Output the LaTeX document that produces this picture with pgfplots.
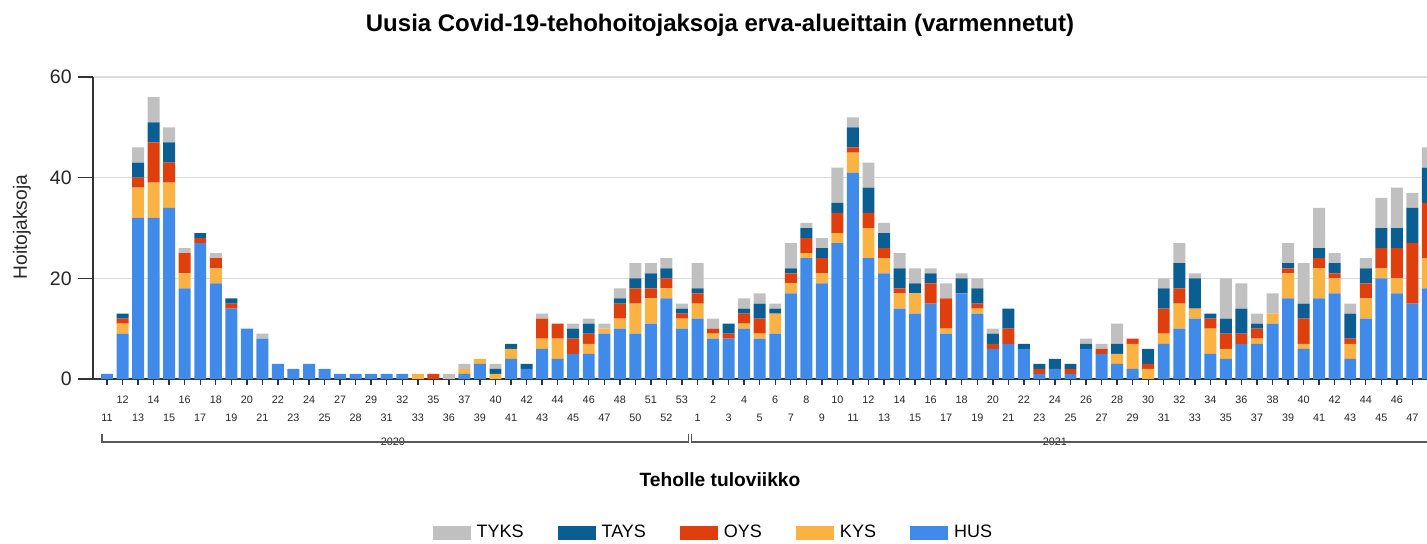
\documentclass[border=0pt]{standalone}
\usepackage{pgfplots}
\pgfplotsset{compat=1.18}
\usepackage{pgfplotstable}
\usepackage{fontspec}
\setmainfont{Liberation Sans}
\definecolor{tyks}{RGB}{192,192,192}
\definecolor{tays}{RGB}{11,94,145}
\definecolor{oys}{RGB}{222,63,12}
\definecolor{kys}{RGB}{250,178,66}
\definecolor{hus}{RGB}{64,138,234}

% i = category index; weeks 2020: 11..25,27,28,29,31,32,33,35,36,37,39..48,50..53; 2021: 1..48
\pgfplotstableread{
i HUS KYS OYS TAYS TYKS
0 1 0 0 0 0
1 9 2 1 1 0
2 32 6 2 3 3
3 32 7 8 4 5
4 34 5 4 4 3
5 18 3 4 0 1
6 27 0 1 1 0
7 19 3 2 0 1
8 14 0 1 1 0
9 10 0 0 0 0
10 8 0 0 0 1
11 3 0 0 0 0
12 2 0 0 0 0
13 3 0 0 0 0
14 2 0 0 0 0
15 1 0 0 0 0
16 1 0 0 0 0
17 1 0 0 0 0
18 1 0 0 0 0
19 1 0 0 0 0
20 0 1 0 0 0
21 0 0 1 0 0
22 0 0 0 0 1
23 1 1 0 0 1
24 3 1 0 0 0
25 0 1 0 1 1
26 4 2 0 1 0
27 2 0 0 1 0
28 6 2 4 0 1
29 4 4 3 0 0
30 5 0 3 2 1
31 5 2 2 2 1
32 9 1 0 0 1
33 10 2 3 1 2
34 9 6 3 2 3
35 11 5 2 3 2
36 16 2 2 2 2
37 10 2 1 1 1
38 12 3 2 1 5
39 8 1 1 0 2
40 8 0 1 2 0
41 10 1 2 1 2
42 8 1 3 3 2
43 9 4 0 1 1
44 17 2 2 1 5
45 24 1 3 2 1
46 19 2 3 2 2
47 27 2 4 2 7
48 41 4 1 4 2
49 24 6 3 5 5
50 21 3 2 3 2
51 14 3 1 4 3
52 13 4 0 2 3
53 15 0 4 2 1
54 9 1 6 0 3
55 17 0 0 3 1
56 13 1 1 3 2
57 6 0 1 2 1
58 7 0 3 4 0
59 6 0 0 1 0
60 1 0 1 1 0
61 2 0 0 2 0
62 1 0 1 1 0
63 6 0 0 1 1
64 5 0 1 0 1
65 3 2 0 2 4
66 2 5 1 0 0
67 0 2 1 3 0
68 7 2 5 4 2
69 10 5 3 5 4
70 12 2 0 6 1
71 5 5 2 1 0
72 4 2 3 3 8
73 7 0 2 5 5
74 7 1 2 1 2
75 11 2 0 0 4
76 16 5 1 1 4
77 6 1 5 3 8
78 16 6 2 2 8
79 17 3 1 2 2
80 4 3 1 5 2
81 12 4 3 3 2
82 20 2 4 4 6
83 17 3 6 4 8
84 15 0 12 7 3
85 18 6 11 7 4
}\data

\begin{document}
\begin{tikzpicture}
\useasboundingbox (0,0) rectangle (713.5pt,271.5pt);
\begin{axis}[
  at={(46.5pt,82pt)}, anchor=south west,
  scale only axis, width=667pt, height=151pt,
  ybar stacked, bar width=0.77,
  xmin=-0.9, xmax=84.94, ymin=0, ymax=60,
  enlargelimits=false,
  clip mode=individual,
  axis x line*=bottom, axis y line*=left,
  axis line style={black!80, line width=0.9pt},
  ytick={0,20,40,60},
  ytick style={draw=none},
  ymajorgrids, grid style={black!14, line width=0.7pt},
  tick align=outside,
  major tick length=3pt,
  xtick style={black!80, line width=0.7pt},
  /pgf/number format/assume math mode=true,
  yticklabel style={font=\fontsize{9.75}{11}\selectfont, text=black!85, anchor=east, inner sep=0pt, xshift=-7.5pt},
  xtick={1,3,...,83},
  xticklabels={12,14,16,18,20,22,24,27,29,32,35,37,40,42,44,46,48,51,53,2,4,6,8,10,12,14,16,18,20,22,24,26,28,30,32,34,36,38,40,42,44,46},
  extra x ticks={0,2,...,84},
  extra x tick labels={11,13,15,17,19,21,23,25,28,31,33,36,39,41,43,45,47,50,52,1,3,5,7,9,11,13,15,17,19,21,23,25,27,29,31,33,35,37,39,41,43,45,47},
  xticklabel style={font=\fontsize{5.4}{6}\selectfont, text=black!85, anchor=center, inner sep=0pt, yshift=-7.5pt},
  extra x tick style={xticklabel style={yshift=-9pt}},
  every axis title shift=0pt,
  title={Uusia Covid-19-tehohoitojaksoja erva-alueittain (varmennetut)},
  title style={at={(axis description cs:0.470,1.172)}, anchor=center, font=\bfseries\fontsize{12}{14}\selectfont},
  xlabel={Teholle tuloviikko},
  xlabel style={at={(axis description cs:0.470,-0.334)}, anchor=center, font=\bfseries\fontsize{9.6}{11}\selectfont},
  ylabel={\fontsize{9.6}{11}\selectfont Hoitojaksoja},
  ylabel style={at={(axis description cs:-0.0532,0.503)}, anchor=center, text=black!85},
  legend columns=5,
  reverse legend,
  legend image code/.code={\fill[#1] (0pt,-3.5pt) rectangle (19pt,3.5pt);},
  legend style={at={(axis description cs:0.4665,-0.51)}, anchor=center, draw=none, fill=none,
    font=\fontsize{9}{11}\selectfont, nodes={inner sep=3pt},
    /tikz/every even column/.append style={column sep=14pt}},
]
\addplot[fill=hus, draw=none] table[x=i, y=HUS]{\data};
\addplot[fill=kys, draw=none] table[x=i, y=KYS]{\data};
\addplot[fill=oys, draw=none] table[x=i, y=OYS]{\data};
\addplot[fill=tays, draw=none] table[x=i, y=TAYS]{\data};
\addplot[fill=tyks, draw=none] table[x=i, y=TYKS]{\data};
\legend{HUS,KYS,OYS,TAYS,TYKS}
\pgfplotsinvokeforeach{0,20,40,60}{\draw[black!80, line width=0.8pt] (axis cs:-0.9,#1) -- ++(-7.5pt,0pt);}
\draw[black!65, line width=0.6pt] (axis cs:-0.32,-11.0) -- (axis cs:-0.32,-12.5) -- (axis cs:37.4,-12.5) -- (axis cs:37.4,-11.0);
\node[fill=white, inner sep=1pt, font=\fontsize{5.4}{6}\selectfont, text=black!85] at (axis cs:18.4,-12.5) {2020};
\draw[black!65, line width=0.6pt] (axis cs:37.6,-11.0) -- (axis cs:37.6,-12.5) -- (axis cs:86,-12.5);
\node[fill=white, inner sep=1pt, font=\fontsize{5.4}{6}\selectfont, text=black!85] at (axis cs:61.0,-12.5) {2021};
\end{axis}
\end{tikzpicture}
\end{document}
